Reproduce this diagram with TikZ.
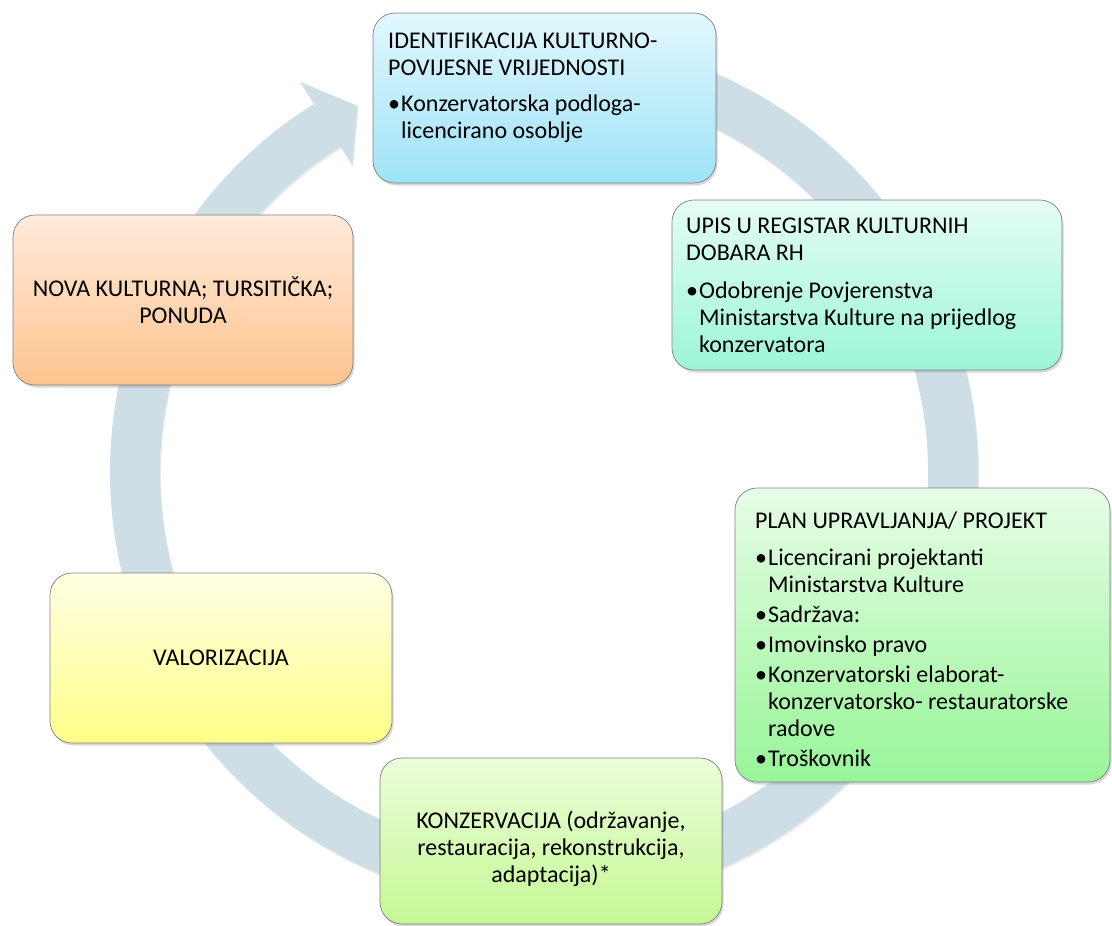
\documentclass[tikz,border=0pt]{standalone}
\usepackage{fontspec}
\setmainfont{Carlito}
\usetikzlibrary{shadows}

\definecolor{prsten}{RGB}{205,222,230}
\definecolor{plavaA}{RGB}{226,247,253}
\definecolor{plavaB}{RGB}{158,227,248}
\definecolor{tirkizA}{RGB}{228,253,244}
\definecolor{tirkizB}{RGB}{156,245,217}
\definecolor{zelenaA}{RGB}{230,253,230}
\definecolor{zelenaB}{RGB}{152,245,152}
\definecolor{limetaA}{RGB}{236,253,218}
\definecolor{limetaB}{RGB}{196,248,148}
\definecolor{zutaA}{RGB}{255,255,228}
\definecolor{zutaB}{RGB}{255,255,136}
\definecolor{narancaA}{RGB}{255,234,218}
\definecolor{narancaB}{RGB}{255,196,143}

\newcommand{\tekstfont}{\fontsize{24}{27}\selectfont\parindent=0pt\parskip=3pt}
\newcommand{\vrh}{\rule{0pt}{20pt}}
\newcommand{\stavka}[1]{\par\hangindent=13pt\hangafter=1\makebox[13pt][l]{\textbullet}#1\par}

\begin{document}
\begin{tikzpicture}[x=1pt,y=-1pt,
    kutija/.style={draw=black!50, line width=.7pt, rounded corners=22pt, inner sep=0pt,
      drop shadow={shadow xshift=1.5pt, shadow yshift=-2.5pt, opacity=.3}},
    tekst/.style={anchor=north west, inner sep=0pt, text width=400pt, font=\tekstfont,
      execute at begin node={\raggedright\spaceskip=0pt\xspaceskip=0pt}},
    sredina/.style={inner sep=0pt, text width=#1, font=\tekstfont,
      execute at begin node={\centering\spaceskip=0pt\xspaceskip=0pt},
      execute at end node={\endgraf}}]
  \useasboundingbox (0,0) rectangle (1112,926);

  % kruzna strelica iza kutija
  \fill[prsten, shift={(544,472)}, drop shadow={shadow xshift=1pt, shadow yshift=-2pt, opacity=.18}]
    (-100:434) arc[start angle=-100, end angle=238, radius=434]
    -- (238:460) -- (243:411) -- (238:362) -- (238:384)
    arc[start angle=238, end angle=-100, radius=384] -- cycle;

  % kutije
  \node[kutija, top color=plavaA, bottom color=plavaB, minimum width=343pt, minimum height=170pt] (b1) at (544.5,98) {};
  \node[kutija, top color=tirkizA, bottom color=tirkizB, minimum width=390pt, minimum height=170pt] (b2) at (867,285) {};
  \node[kutija, top color=zelenaA, bottom color=zelenaB, minimum width=375pt, minimum height=294pt] (b3) at (922.5,635) {};
  \node[kutija, top color=limetaA, bottom color=limetaB, minimum width=342pt, minimum height=166pt] (b4) at (551,841) {};
  \node[kutija, top color=zutaA, bottom color=zutaB, minimum width=342pt, minimum height=170pt] (b6) at (221,658) {};
  \node[kutija, top color=narancaA, bottom color=narancaB, minimum width=340pt, minimum height=170pt] (b5) at (183,300) {};

  % tekstovi
  \node[tekst] (t1) at (388,28) {\vrh IDENTIFIKACIJA KULTURNO-\newline POVIJESNE VRIJEDNOSTI\par\vspace{6pt}
    \stavka{Konzervatorska podloga-\newline licencirano osoblje}};
  \node[tekst] (t2) at (686,213) {\vrh UPIS U REGISTAR KULTURNIH\newline DOBARA RH\par\vspace{8pt}
    \stavka{Odobrenje Povjerenstva\newline Ministarstva Kulture na prijedlog\newline konzervatora}};
  \node[tekst] (t3) at (755,508) {\vrh PLAN UPRAVLJANJA/ PROJEKT\par\vspace{7pt}
    \stavka{Licencirani projektanti\newline Ministarstva Kulture}
    \stavka{Sadržava:}
    \stavka{Imovinsko pravo}
    \stavka{Konzervatorski elaborat-\newline konzervatorsko- restauratorske\newline radove}
    \stavka{Troškovnik}};
  \node[sredina=342pt] (t4) at (551,849) {KONZERVACIJA (održavanje,\\restauracija, rekonstrukcija,\\adaptacija)*};
  \node[sredina=340pt] (t5) at (b5) {NOVA KULTURNA; TURSITIČKA;\\PONUDA};
  \node[sredina=342pt] (t6) at (b6) {VALORIZACIJA};
\end{tikzpicture}
\end{document}
